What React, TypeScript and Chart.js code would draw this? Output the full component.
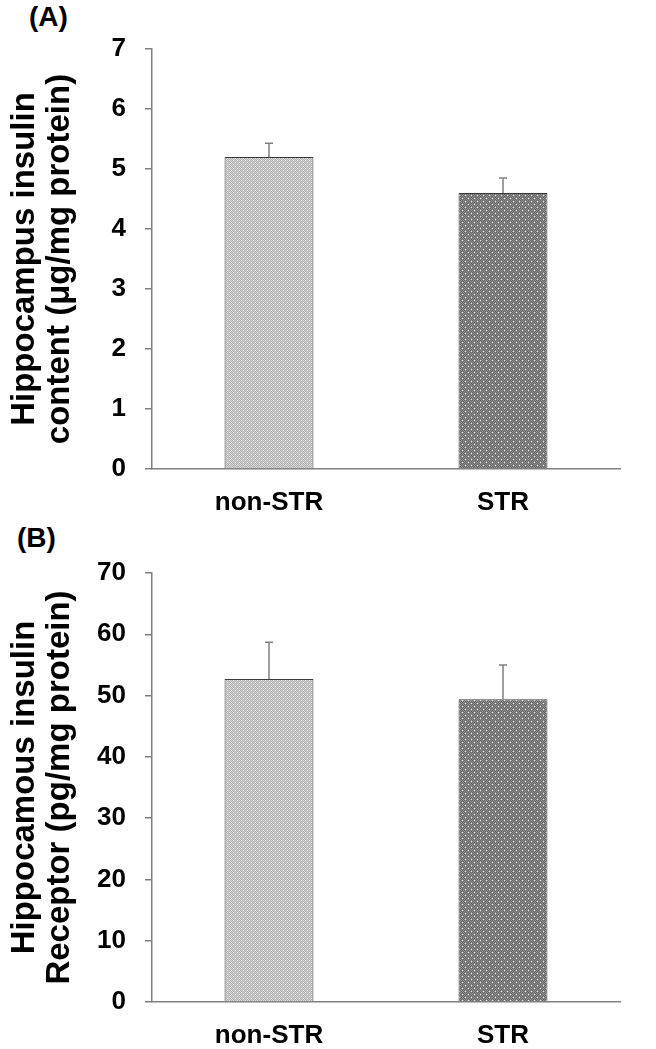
import React, { useEffect, useRef } from 'react';
import { Chart, registerables } from 'chart.js';

Chart.register(...registerables);

const categories = ['non-STR', 'STR'];
const insulinContent = [5.2, 4.6];
const insulinContentSE = [0.23, 0.25];
const receptorContent = [52.7, 49.4];
const receptorContentSE = [6.0, 5.6];
const insulinTicks = [0, 1, 2, 3, 4, 5, 6, 7];
const receptorTicks = [0, 10, 20, 30, 40, 50, 60, 70];
const insulinTitle = ['Hippocampus insulin', 'content (μg/mg protein)'];
const receptorTitle = ['Hippocamous insulin', 'Receptor (pg/mg protein)'];
const panelLabels = ['(A)', '(B)'];

const FONT = "Arial, 'Liberation Sans', Helvetica, sans-serif";
const AXIS_GRAY = '#808080';

function makePattern(kind: number): CanvasPattern | string {
  const c = document.createElement('canvas');
  const size = kind === 0 ? 4 : 6;
  c.width = size;
  c.height = size;
  const g = c.getContext('2d');
  if (!g) return kind === 0 ? '#c4c4c4' : '#7c7c7c';
  const a = kind === 0 ? '#b0b0b0' : '#676767';
  const b = kind === 0 ? '#d6d6d6' : '#8f8f8f';
  for (let y = 0; y < size; y++) {
    for (let x = 0; x < size; x++) {
      g.fillStyle = (x + y) % 2 === 0 ? a : b;
      g.fillRect(x, y, 1, 1);
    }
  }
  if (kind === 0) {
    g.fillStyle = '#e6e6e6';
    g.fillRect(1, 0, 1, 1);
    g.fillRect(3, 2, 1, 1);
  } else {
    g.fillStyle = '#eeeeee';
    g.fillRect(0, 0, 1, 1);
    g.fillRect(3, 3, 1, 1);
  }
  const p = g.createPattern(c, 'repeat');
  return p || (kind === 0 ? '#c4c4c4' : '#7c7c7c');
}

const errorBarPlugin = {
  id: 'errorBars',
  afterDatasetsDraw(chart: any) {
    const errs: number[] = chart.options.plugins.errorBars?.errors || [];
    const vals: number[] = chart.data.datasets[0].data;
    const meta = chart.getDatasetMeta(0);
    const yScale = chart.scales.y;
    const ctx = chart.ctx;
    ctx.save();
    ctx.strokeStyle = AXIS_GRAY;
    ctx.lineWidth = 1.5;
    meta.data.forEach((el: any, i: number) => {
      const top = yScale.getPixelForValue(vals[i] + errs[i]);
      ctx.beginPath();
      ctx.moveTo(el.x, el.y);
      ctx.lineTo(el.x, top);
      ctx.moveTo(el.x - 4, top);
      ctx.lineTo(el.x + 4, top);
      ctx.stroke();
    });
    ctx.restore();
  },
};

type PanelProps = {
  values: number[];
  errors: number[];
  ticks: number[];
  title: string[];
  label: string;
  top: number;
  height: number;
  padTop: number;
  xHeight: number;
  labelTop: number;
  labelLeft: number;
};

function Panel(p: PanelProps) {
  const ref = useRef<HTMLCanvasElement | null>(null);
  useEffect(() => {
    if (!ref.current) return;
    const chart = new Chart(ref.current, {
      type: 'bar',
      data: {
        labels: categories,
        datasets: [
          {
            data: p.values,
            backgroundColor: [makePattern(0), makePattern(1)] as any,
            borderColor: '#3a3a3a',
            borderWidth: 1,
            barPercentage: 0.38,
            categoryPercentage: 1,
          },
        ],
      },
      options: {
        animation: false,
        responsive: false,
        maintainAspectRatio: false,
        layout: { padding: { top: p.padTop, right: 36, left: 0, bottom: 0 } },
        plugins: {
          legend: { display: false },
          tooltip: { enabled: false },
          errorBars: { errors: p.errors },
        } as any,
        scales: {
          x: {
            grid: { display: false, drawTicks: false },
            border: { display: true, color: AXIS_GRAY, width: 1.5 },
            ticks: {
              color: '#000',
              padding: 18,
              font: { family: FONT, size: 26, weight: 'bold' },
            },
            afterFit: (s: any) => {
              s.height = p.xHeight;
            },
          },
          y: {
            min: p.ticks[0],
            max: p.ticks[p.ticks.length - 1],
            ticks: {
              stepSize: p.ticks[1] - p.ticks[0],
              color: '#000',
              padding: 19,
              font: { family: FONT, size: 26, weight: 'bold' },
            },
            grid: {
              display: true,
              drawOnChartArea: false,
              drawTicks: true,
              tickLength: 7,
              color: AXIS_GRAY,
              lineWidth: 1.5,
            },
            border: { display: true, color: AXIS_GRAY, width: 1.5 },
            title: {
              display: true,
              text: p.title,
              color: '#000',
              padding: { top: 7, bottom: 0 },
              font: { family: FONT, size: 33, weight: 'bold', lineHeight: 1.06 },
            },
            afterFit: (s: any) => {
              s.width = 152;
            },
          },
        },
      },
      plugins: [errorBarPlugin],
    });
    return () => chart.destroy();
  }, []);
  return (
    <>
      <div
        style={{
          position: 'absolute',
          left: p.labelLeft,
          top: p.labelTop,
          font: `bold 28px ${FONT}`,
          lineHeight: '28px',
          color: '#000',
        }}
      >
        {p.label}
      </div>
      <canvas
        ref={ref}
        width={656}
        height={p.height}
        style={{ position: 'absolute', left: 0, top: p.top, width: 656, height: p.height }}
      />
    </>
  );
}

export default function App() {
  return (
    <div
      style={{
        position: 'absolute',
        left: 0,
        top: 0,
        width: 656,
        height: 1049,
        background: '#fff',
        overflow: 'hidden',
      }}
    >
      <Panel
        values={insulinContent}
        errors={insulinContentSE}
        ticks={insulinTicks}
        title={insulinTitle}
        label={panelLabels[0]}
        top={0}
        height={520}
        padTop={49}
        xHeight={51}
        labelTop={3}
        labelLeft={29}
      />
      <Panel
        values={receptorContent}
        errors={receptorContentSE}
        ticks={receptorTicks}
        title={receptorTitle}
        label={panelLabels[1]}
        top={520}
        height={529}
        padTop={53}
        xHeight={47}
        labelTop={524}
        labelLeft={17}
      />
    </div>
  );
}
